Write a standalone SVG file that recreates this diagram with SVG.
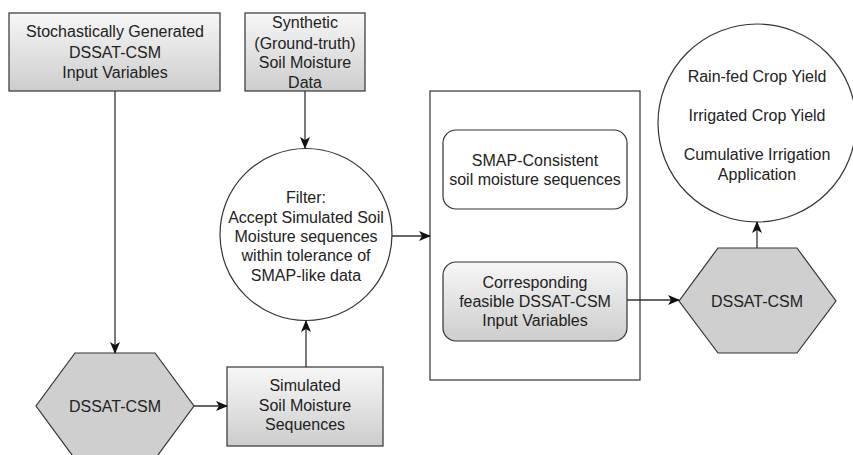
<svg xmlns="http://www.w3.org/2000/svg" width="853" height="455" viewBox="0 0 853 455">
<defs>
<linearGradient id="g" x1="0" y1="0" x2="0" y2="1">
<stop offset="0" stop-color="#f7f7f7"/>
<stop offset="1" stop-color="#cdcdcd"/>
</linearGradient>
<marker id="ah" viewBox="0 0 12 10" refX="11" refY="5" markerWidth="12" markerHeight="10" markerUnits="userSpaceOnUse" orient="auto">
<path d="M0,0 L12,5 L0,10 L3,5 Z" fill="#111"/>
</marker>
<style>
text{font-family:"Liberation Sans",Arial,sans-serif;font-size:16px;fill:#222;text-anchor:middle;dominant-baseline:central}
.box{fill:url(#g);stroke:#333;stroke-width:1.2}
.hex{fill:#cfcfcf;stroke:#333;stroke-width:1.2}
.circ{fill:#fff;stroke:#333;stroke-width:1.2}
.plain{fill:#fff;stroke:#333;stroke-width:1.2}
.edge{stroke:#333;stroke-width:1.3;fill:none;marker-end:url(#ah)}
</style>
</defs>
<rect width="853" height="455" fill="#fff"/>
<g id="container">
<rect class="plain" x="430" y="91" width="210" height="289"/>
</g>
<g id="stochastic">
<rect class="box" x="9" y="13" width="211" height="78"/>
<text x="115" y="31">Stochastically Generated</text>
<text x="115" y="52">DSSAT-CSM</text>
<text x="115" y="72">Input Variables</text>
</g>
<g id="synthetic">
<rect class="box" x="245" y="13" width="120" height="78"/>
<text x="305" y="22">Synthetic</text>
<text x="305" y="43">(Ground-truth)</text>
<text x="305" y="62">Soil Moisture</text>
<text x="305" y="82">Data</text>
</g>
<g id="dssat1">
<polygon class="hex" points="75,353 155,353 194,406 155,459 75,459 36,406"/>
<text x="115" y="406">DSSAT-CSM</text>
</g>
<g id="simulated">
<rect class="box" x="227" y="367" width="156" height="79"/>
<text x="305" y="385">Simulated</text>
<text x="305" y="405">Soil Moisture</text>
<text x="305" y="424">Sequences</text>
</g>
<g id="filter">
<circle class="circ" cx="306" cy="234.5" r="86"/>
<text x="306" y="197">Filter:</text>
<text x="306" y="217">Accept Simulated Soil</text>
<text x="306" y="236">Moisture sequences</text>
<text x="306" y="255">within tolerance of</text>
<text x="306" y="275">SMAP-like data</text>
</g>
<g id="smap">
<rect class="plain" x="443" y="130" width="184" height="79" rx="13"/>
<text x="535" y="160">SMAP-Consistent</text>
<text x="535" y="179">soil moisture sequences</text>
</g>
<g id="feasible">
<rect class="box" x="443" y="262" width="184" height="79" rx="13"/>
<text x="535" y="282">Corresponding</text>
<text x="535" y="301">feasible DSSAT-CSM</text>
<text x="535" y="320">Input Variables</text>
</g>
<g id="dssat2">
<polygon class="hex" points="718,248 797,248 836,301 797,353 718,353 679,301"/>
<text x="757" y="301">DSSAT-CSM</text>
</g>
<g id="outputs">
<circle class="circ" cx="757" cy="123" r="99"/>
<text x="757" y="76">Rain-fed Crop Yield</text>
<text x="757" y="115">Irrigated Crop Yield</text>
<text x="757" y="154">Cumulative Irrigation</text>
<text x="757" y="174">Application</text>
</g>
<g id="connectors">
<line class="edge" x1="115" y1="91" x2="115" y2="353"/>
<line class="edge" x1="305" y1="91" x2="305" y2="148"/>
<line class="edge" x1="194" y1="406" x2="227" y2="406"/>
<line class="edge" x1="306" y1="367" x2="306" y2="321"/>
<line class="edge" x1="392" y1="236" x2="430" y2="236"/>
<line class="edge" x1="627" y1="300" x2="679" y2="300"/>
<line class="edge" x1="757" y1="248" x2="757" y2="222"/>
</g>
</svg>
